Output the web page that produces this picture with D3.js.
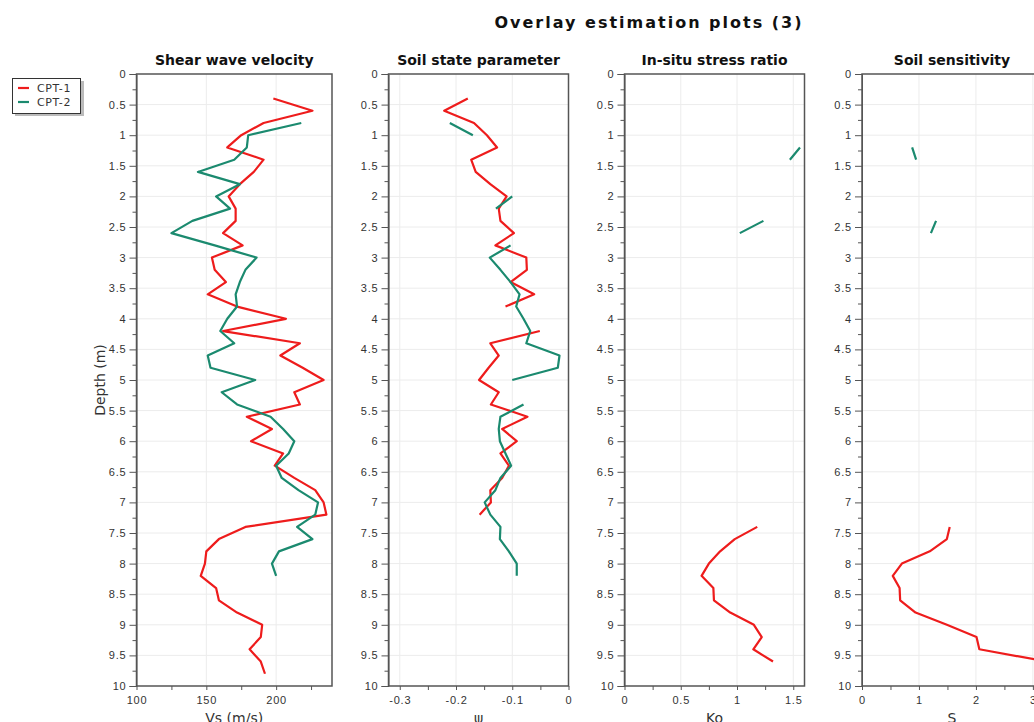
<!DOCTYPE html>
<html>
<head>
<meta charset="utf-8">
<script src="https://cdn.jsdelivr.net/npm/d3@7"></script>
<style>
  body { margin: 0; background: #fff; }
  svg { font-family: "DejaVu Sans", Verdana, sans-serif; }
  .tick text { fill: #333; font-size: 11px; letter-spacing: 0.8px; }
  .grid line { stroke: #ececec; stroke-width: 1; }
</style>
</head>
<body>
<div id="chart"></div>
<script>
// depth (m) for each reading, 0.2 m step
var depth = [0.4, 0.6, 0.8, 1.0, 1.2, 1.4, 1.6, 1.8, 2.0, 2.2, 2.4, 2.6, 2.8, 3.0, 3.2, 3.4, 3.6, 3.8,
  4.0, 4.2, 4.4, 4.6, 4.8, 5.0, 5.2, 5.4, 5.6, 5.8, 6.0, 6.2, 6.4, 6.6, 6.8, 7.0, 7.2, 7.4, 7.6, 7.8,
  8.0, 8.2, 8.4, 8.6, 8.8, 9.0, 9.2, 9.4, 9.6, 9.8];

var seriesNames = ["CPT-1", "CPT-2"];

// Shear wave velocity Vs (m/s)
var vs1 = [198, 226, 191, 175, 165, 191, 184, 174, 166, 171, 171, 162, 176, 154, 156, 164, 151, 172,
  207, 162, 217, 203, 219, 234, 213, 217, 179, 197, 182, 205, 199, 213, 228, 234, 236, 178, 159, 150,
  149, 146, 157, 159, 172, 190, 189, 181, 189, 192];
var vs2 = [null, null, 218, 180, 179, 170, 144, 174, 157, 167, 140, 125, 156, 186, 178, 174, 171, 172,
  165, 160, 170, 151, 153, 185, 161, 172, 196, 205, 213, 209, 200, 204, 216, 230, 228, 215, 226, 202,
  197, 200, null, null, null, null, null, null, null, null];

// Soil state parameter psi
var psi1 = [-0.179, -0.221, -0.168, -0.145, -0.127, -0.173, -0.165, -0.139, -0.110, -0.124, -0.121, -0.097,
  -0.130, -0.075, -0.074, -0.103, -0.061, -0.112, null, -0.051, -0.139, -0.124, -0.142, -0.159, -0.124,
  -0.138, -0.073, -0.118, -0.092, -0.121, -0.106, -0.118, -0.139, -0.138, -0.158, null, null, null,
  null, null, null, null, null, null, null, null, null, null];
var psi2 = [null, null, -0.211, -0.170, null, null, null, null, -0.100, -0.129, null, null, -0.103, -0.140,
  -0.121, -0.103, -0.087, -0.093, -0.080, -0.068, -0.075, -0.016, -0.019, -0.100, null, -0.080, -0.121,
  -0.124, -0.122, -0.112, -0.102, -0.121, -0.130, -0.149, -0.139, -0.121, -0.122, -0.106, -0.092, -0.092,
  null, null, null, null, null, null, null, null];

// In-situ stress ratio Ko
var ko1 = [null, null, null, null, null, null, null, null, null, null, null, null, null, null, null, null,
  null, null, null, null, null, null, null, null, null, null, null, null, null, null, null, null, null,
  null, null, 1.18, 0.98, 0.85, 0.75, 0.685, 0.79, 0.795, 0.94, 1.15, 1.22, 1.145, 1.32, null];
var ko2 = [null, null, null, null, 1.56, 1.47, null, null, null, null, 1.235, 1.025, null, null, null, null,
  null, null, null, null, null, null, null, null, null, null, null, null, null, null, null, null, null,
  null, null, null, null, null, null, null, null, null, null, null, null, null, null, null];

// Soil sensitivity S
var s1 = [null, null, null, null, null, null, null, null, null, null, null, null, null, null, null, null,
  null, null, null, null, null, null, null, null, null, null, null, null, null, null, null, null, null,
  null, null, 1.54, 1.49, 1.19, 0.70, 0.54, 0.66, 0.67, 0.94, 1.49, 2.01, 2.06, 3.25, null];
var s2 = [null, null, null, null, 0.88, 0.95, null, null, null, null, 1.30, 1.21, null, null, null, null,
  null, null, null, null, null, null, null, null, null, null, null, null, null, null, null, null, null,
  null, null, null, null, null, null, null, null, null, null, null, null, null, null, null];

var panelTitles = ["Shear wave velocity", "Soil state parameter", "In-situ stress ratio", "Soil sensitivity"];
var xLabels = ["Vs (m/s)", "\u03c8", "Ko", "S"];
var xDomains = [[100, 240], [-0.32, 0], [0, 1.6], [0, 3.16]];
var xMajor = [[100, 150, 200], [-0.3, -0.2, -0.1, 0], [0, 0.5, 1, 1.5], [0, 1, 2, 3]];
var xMinor = [[125, 175, 225], [-0.25, -0.15, -0.05], [0.25, 0.75, 1.25], [0.5, 1.5, 2.5]];
var yMajor = d3.range(0, 10.01, 0.5);
var yMinor = d3.range(0.25, 10, 0.5);

var panelData = [[vs1, vs2], [psi1, psi2], [ko1, ko2], [s1, s2]];
var colors = ["#ee1c1c", "#1b8a6f"];

var svgWidth = 1034;
var svgHeight = 722;

// plot boxes (left, width), shared top/bottom
var panels = [
  {left: 136.5, width: 195.5},
  {left: 388.5, width: 180},
  {left: 624.5, width: 180},
  {left: 862, width: 180}
];
var plotTop = 74;
var plotBottom = 686;

var svg = d3.select("#chart")
  .append("svg")
  .attr("width", svgWidth)
  .attr("height", svgHeight);

svg.append("text")
  .attr("x", 649)
  .attr("y", 28)
  .attr("text-anchor", "middle")
  .attr("font-size", "16px")
  .attr("font-weight", "bold")
  .attr("letter-spacing", "2px")
  .attr("fill", "#111")
  .text("Overlay estimation plots (3)");

var yScale = d3.scaleLinear()
  .domain([0, 10])
  .range([plotTop, plotBottom]);

panels.forEach(function(p, i) {
  var g = svg.append("g");

  var xScale = d3.scaleLinear()
    .domain(xDomains[i])
    .range([p.left, p.left + p.width]);

  // clip for the lines
  svg.append("clipPath")
    .attr("id", "clip" + i)
    .append("rect")
    .attr("x", p.left)
    .attr("y", plotTop)
    .attr("width", p.width)
    .attr("height", plotBottom - plotTop);

  // grid
  var grid = g.append("g").attr("class", "grid");
  grid.selectAll("line.v")
    .data(xMajor[i].filter(d => xScale(d) > p.left + 1 && xScale(d) < p.left + p.width - 1))
    .enter()
    .append("line")
    .attr("x1", d => xScale(d))
    .attr("x2", d => xScale(d))
    .attr("y1", plotTop)
    .attr("y2", plotBottom);
  grid.selectAll("line.h")
    .data(yMajor.slice(1, -1))
    .enter()
    .append("line")
    .attr("x1", p.left)
    .attr("x2", p.left + p.width)
    .attr("y1", d => yScale(d))
    .attr("y2", d => yScale(d));

  // lines
  panelData[i].forEach(function(values, k) {
    var line = d3.line()
      .defined(d => d[1] != null)
      .x(d => xScale(d[1]))
      .y(d => yScale(d[0]));
    g.append("path")
      .datum(depth.map((d, j) => [d, values[j]]))
      .attr("clip-path", "url(#clip" + i + ")")
      .attr("fill", "none")
      .attr("stroke", colors[k])
      .attr("stroke-width", 2.2)
      .attr("stroke-linejoin", "round")
      .attr("d", line);
  });

  // frame
  g.append("rect")
    .attr("x", p.left)
    .attr("y", plotTop)
    .attr("width", p.width)
    .attr("height", plotBottom - plotTop)
    .attr("fill", "none")
    .attr("stroke", "#555")
    .attr("stroke-width", 1.5);

  // y axis
  var yAxis = d3.axisLeft(yScale)
    .tickValues(yMajor)
    .tickSize(7)
    .tickPadding(3)
    .tickFormat(d3.format("~g"));
  var ya = g.append("g")
    .attr("transform", `translate(${p.left}, 0)`)
    .call(yAxis);
  ya.select(".domain").attr("stroke", "#555");
  ya.selectAll(".tick line").attr("stroke", "#555");

  var yMinorAxis = d3.axisLeft(yScale)
    .tickValues(yMinor)
    .tickSize(4)
    .tickFormat("");
  var ym = g.append("g")
    .attr("transform", `translate(${p.left}, 0)`)
    .call(yMinorAxis);
  ym.select(".domain").remove();
  ym.selectAll(".tick line").attr("stroke", "#555");

  // x axis
  var xAxis = d3.axisBottom(xScale)
    .tickValues(xMajor[i])
    .tickSize(4)
    .tickPadding(6)
    .tickFormat(d => d3.format("~g")(d).replace("\u2212", "-"));
  var xa = g.append("g")
    .attr("transform", `translate(0, ${plotBottom})`)
    .call(xAxis);
  xa.select(".domain").remove();
  xa.selectAll(".tick line").attr("stroke", "#555");

  var xMinorAxis = d3.axisBottom(xScale)
    .tickValues(xMinor[i])
    .tickSize(4)
    .tickFormat("");
  var xm = g.append("g")
    .attr("transform", `translate(0, ${plotBottom})`)
    .call(xMinorAxis);
  xm.select(".domain").remove();
  xm.selectAll(".tick line").attr("stroke", "#555");

  // titles
  g.append("text")
    .attr("x", p.left + p.width / 2)
    .attr("y", 65)
    .attr("text-anchor", "middle")
    .attr("font-size", "14px")
    .attr("font-weight", "bold")
    .attr("fill", "#111")
    .text(panelTitles[i]);

  g.append("text")
    .attr("x", p.left + p.width / 2)
    .attr("y", 723)
    .attr("text-anchor", "middle")
    .attr("font-size", "14px")
    .attr("fill", "#333")
    .text(xLabels[i]);
});

// y axis label
svg.append("text")
  .attr("transform", "rotate(-90)")
  .attr("x", -380)
  .attr("y", 105)
  .attr("text-anchor", "middle")
  .attr("font-size", "14px")
  .attr("fill", "#333")
  .text("Depth (m)");

// legend
var legend = svg.append("g");
legend.append("rect")
  .attr("x", 15)
  .attr("y", 81)
  .attr("width", 69)
  .attr("height", 35)
  .attr("fill", "#bbb");
legend.append("rect")
  .attr("x", 12.5)
  .attr("y", 78.5)
  .attr("width", 68)
  .attr("height", 35)
  .attr("fill", "#fff")
  .attr("stroke", "#333")
  .attr("stroke-width", 1);
seriesNames.forEach(function(name, k) {
  legend.append("line")
    .attr("x1", 18)
    .attr("x2", 29)
    .attr("y1", 88 + k * 14)
    .attr("y2", 88 + k * 14)
    .attr("stroke", colors[k])
    .attr("stroke-width", 2.2);
  legend.append("text")
    .attr("x", 37)
    .attr("y", 92 + k * 14)
    .attr("font-size", "11px")
    .attr("letter-spacing", "0.6px")
    .attr("fill", "#333")
    .text(name);
});
</script>
</body>
</html>
